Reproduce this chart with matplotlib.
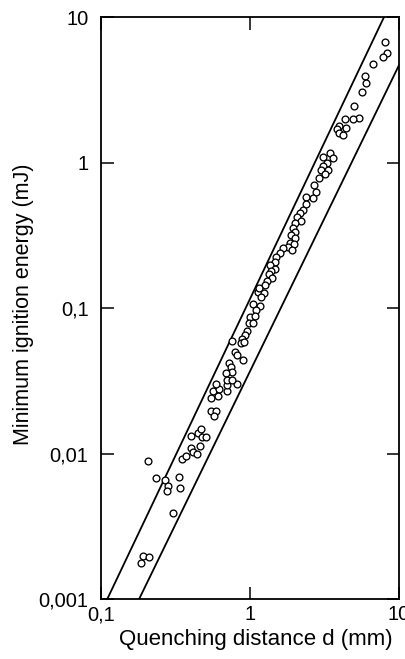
import numpy as np
import matplotlib
matplotlib.use('Agg')
import matplotlib.pyplot as plt

plt.rcParams['font.family'] = ['Liberation Sans', 'DejaVu Sans']

# quenching distance d (mm) and minimum ignition energy (mJ)
d_mm = [0.206, 0.234, 0.270, 0.283, 0.277, 0.333, 0.336, 0.305, 0.191, 0.211,
        0.185, 0.350, 0.372, 0.400, 0.412, 0.439, 0.462, 0.404, 0.450, 0.469,
        0.479, 0.509, 0.547, 0.592, 0.570, 0.547, 0.613, 0.562, 0.622, 0.594,
        0.698, 0.698, 0.818,
        1.137, 1.242, 1.18, 1.052, 1.167, 1.092, 1.0, 1.081, 0.976, 1.052,
        0.959, 0.925, 0.888, 0.866, 0.912, 0.761, 0.793, 0.822, 0.902, 0.723,
        0.742, 0.761, 0.687, 0.698, 0.754,
        3.10, 3.44, 3.59, 3.30, 3.07, 2.98, 3.32, 3.19, 2.89, 2.69,
        2.77, 2.66, 2.38, 2.38, 2.28, 2.17, 2.06, 2.20, 2.01, 1.95,
        2.00, 1.88, 2.00, 1.85, 1.98, 1.81, 1.91, 1.67, 1.59, 1.49,
        1.47, 1.36, 1.47, 1.39, 1.33, 1.40, 1.29, 1.26, 1.15,
        8.09, 8.34, 7.85, 6.72, 5.94, 6.01, 5.65, 4.99, 5.39, 4.89,
        4.34, 3.97, 3.82, 4.41, 3.96, 4.23]
E_mJ = [0.00888, 0.00682, 0.00658, 0.00598, 0.00550, 0.00693, 0.00582, 0.0039, 0.00199, 0.00195,
        0.00177, 0.00917, 0.00957, 0.01096, 0.0102, 0.00993, 0.01127, 0.0132, 0.0139, 0.0148,
        0.0130, 0.0130, 0.0195, 0.0197, 0.0180, 0.0241, 0.0249, 0.0268, 0.0276, 0.0303,
        0.0269, 0.0296, 0.0300,
        0.1294, 0.126, 0.1185, 0.106, 0.1032, 0.0969, 0.0863, 0.0881, 0.0785, 0.0785,
        0.0698, 0.0652, 0.0615, 0.0572, 0.058, 0.0596, 0.0501, 0.0473, 0.0439, 0.0417,
        0.0391, 0.0365, 0.0359, 0.032, 0.032,
        1.086, 1.156, 1.07, 0.987, 0.946, 0.888, 0.888, 0.834, 0.778, 0.700,
        0.630, 0.567, 0.582, 0.519, 0.472, 0.448, 0.424, 0.398, 0.386, 0.353,
        0.334, 0.318, 0.301, 0.279, 0.276, 0.264, 0.250, 0.260, 0.238, 0.225,
        0.208, 0.198, 0.187, 0.180, 0.171, 0.160, 0.154, 0.144, 0.137,
        6.70, 5.68, 5.28, 4.75, 3.93, 3.50, 3.07, 2.44, 2.03, 2.01,
        1.99, 1.78, 1.69, 1.72, 1.59, 1.55]

# bounding lines E = a * d^n
upper_a, upper_n = 0.116, 2.154
lower_a, lower_n = 0.0369, 2.104

xticks = [0.1, 1, 10]
xticklabels = ['0,1', '1', '10']
yticks = [0.001, 0.01, 0.1, 1, 10]
yticklabels = ['0,001', '0,01', '0,1', '1', '10']

fig = plt.figure(figsize=(4.06, 6.59), dpi=100)
ax = fig.add_axes([0.249, 0.091, 0.734, 0.883])

dd = np.logspace(-1.2, 1.2, 200)
ax.plot(dd, upper_a * dd**upper_n, color='black', lw=1.3)
ax.plot(dd, lower_a * dd**lower_n, color='black', lw=1.3)
ax.plot(d_mm, E_mJ, 'o', ms=4.9, mfc='white', mec='black', mew=0.95)

ax.set_xscale('log')
ax.set_yscale('log')
ax.set_xlim(0.1, 10)
ax.set_ylim(0.001, 10)
ax.set_xticks(xticks)
ax.set_xticklabels(xticklabels)
ax.set_yticks(yticks)
ax.set_yticklabels(yticklabels)
ax.minorticks_off()
ax.tick_params(which='major', direction='in', length=9, width=1.1,
               top=True, right=True, labelsize=14.5)
ax.tick_params(axis='x', pad=4.5)
ax.tick_params(axis='y', pad=9)
for s in ax.spines.values():
    s.set_linewidth(1.3)

ax.set_xlabel('Quenching distance d (mm)', fontsize=16, va='center')
ax.xaxis.set_label_coords(0.52, -0.07)
ax.set_ylabel('Minimum ignition energy (mJ)', fontsize=15.5, va='center')
ax.yaxis.set_label_coords(-0.262, 0.507)

fig.savefig('out.png', dpi=100)
